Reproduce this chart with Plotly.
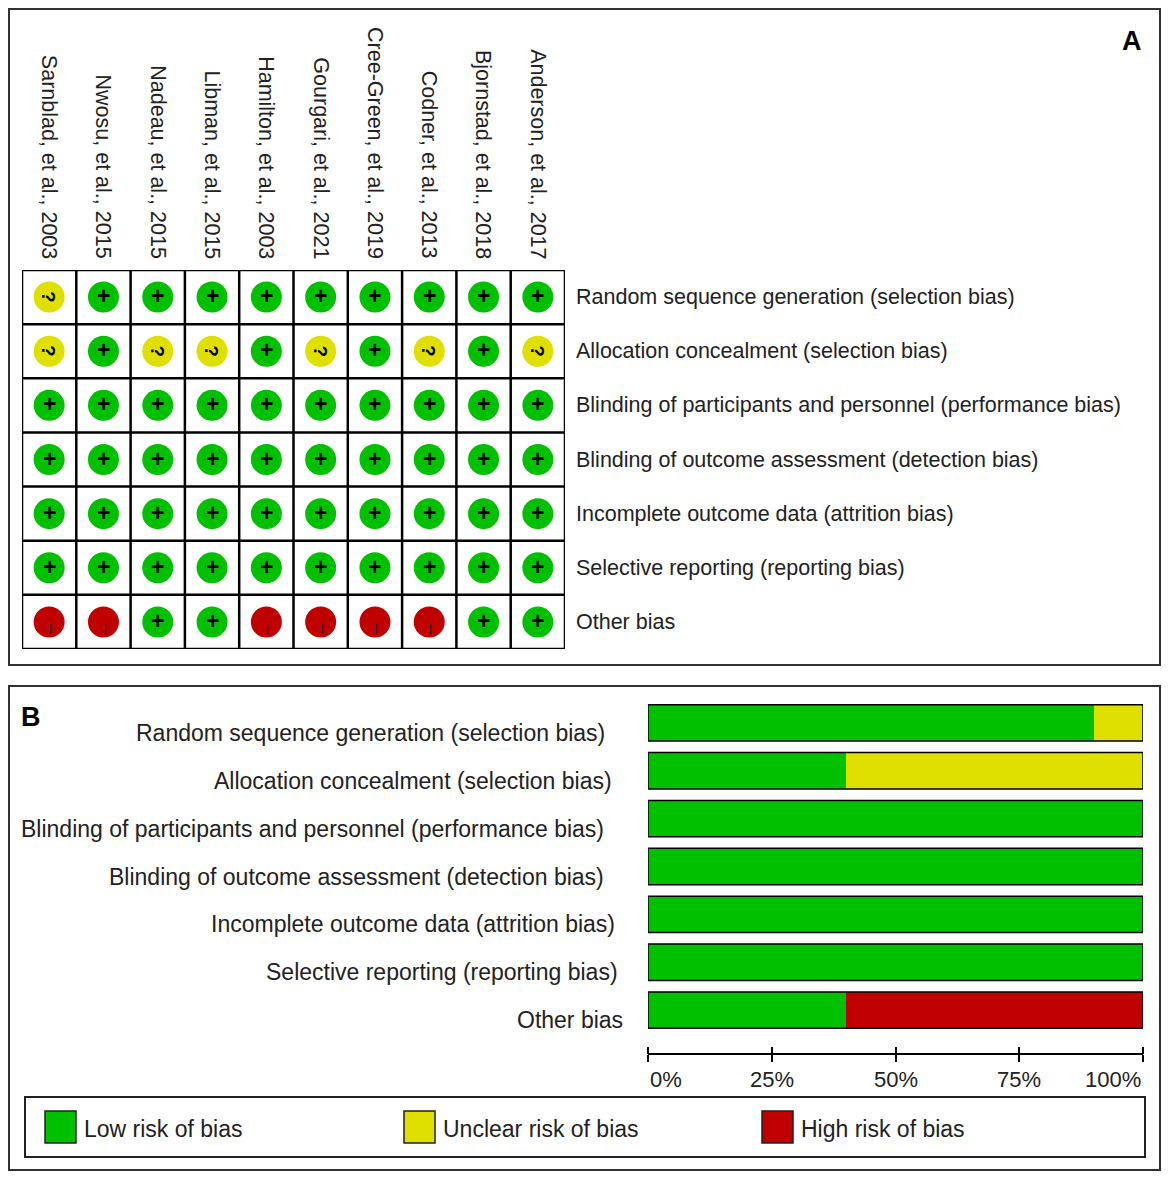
import plotly.graph_objects as go

# studies (columns, left to right) and bias domains (rows, top to bottom)
studies = ["Sarnblad, et al., 2003", "Nwosu, et al., 2015", "Nadeau, et al., 2015",
           "Libman, et al., 2015", "Hamilton, et al., 2003", "Gourgari, et al., 2021",
           "Cree-Green, et al., 2019", "Codner, et al., 2013", "Bjornstad, et al., 2018",
           "Anderson, et al., 2017"]
domains = ["Random sequence generation (selection bias)",
           "Allocation concealment (selection bias)",
           "Blinding of participants and personnel (performance bias)",
           "Blinding of outcome assessment (detection bias)",
           "Incomplete outcome data (attrition bias)",
           "Selective reporting (reporting bias)",
           "Other bias"]

# L = low, U = unclear, H = high  (one string per domain, one letter per study)
judgements = [
    "ULLLLLLLLL",
    "ULUULULULU",
    "LLLLLLLLLL",
    "LLLLLLLLLL",
    "LLLLLLLLLL",
    "LLLLLLLLLL",
    "HHLLHHHHLL",
]
risk_names = {"L": "Low risk of bias", "U": "Unclear risk of bias", "H": "High risk of bias"}
risk_colors = {"L": "#00c000", "U": "#dfdf00", "H": "#c00000"}
pct_ticks = [0, 25, 50, 75, 100]

# the page body has an 8px margin, so the figure is drawn smaller and shifted
OFF = 8
W, H = 1169 - 2 * OFF, 1180 - 2 * OFF
FONT = "Liberation Sans, Arial, sans-serif"
TXT = "#222222"


def px(x):
    return (x - OFF) / W


def py(y):
    return 1 - (y - OFF) / H


fig = go.Figure()
shapes = []
annotations = []

# ---------- Panel A : traffic light grid ----------
for code in ["L", "U", "H"]:
    xs, ys = [], []
    for j, row in enumerate(judgements):
        for i, c in enumerate(row):
            if c == code:
                xs.append(i)
                ys.append(j)
    fig.add_trace(go.Scatter(
        x=xs, y=ys, mode="markers", xaxis="x", yaxis="y",
        marker=dict(size=31, color=risk_colors[code], line=dict(width=0)),
        showlegend=False, hoverinfo="skip"))

for j, row in enumerate(judgements):
    for i, c in enumerate(row):
        if c == "L":
            annotations.append(dict(x=i, y=j, xref="x", yref="y", text="<b>+</b>", yshift=1,
                                    showarrow=False, font=dict(size=23, color="black", family=FONT)))
        elif c == "U":
            annotations.append(dict(x=i, y=j, xref="x", yref="y", text="<b>?</b>", textangle=90,
                                    showarrow=False, font=dict(size=19, color="black", family=FONT)))
        else:
            annotations.append(dict(x=i + 0.03, y=j, xref="x", yref="y", text="|", yshift=-6,
                                    showarrow=False, font=dict(size=11, color="black", family=FONT)))

# grid lines
n_s, n_d = len(studies), len(domains)
for i in range(n_s + 1):
    shapes.append(dict(type="line", xref="x", yref="y", x0=i - 0.5, x1=i - 0.5,
                       y0=-0.55, y1=n_d - 0.45, line=dict(color="black", width=2.5)))
for j in range(n_d + 1):
    shapes.append(dict(type="line", xref="x", yref="y", x0=-0.52, x1=n_s - 0.48,
                       y0=j - 0.5, y1=j - 0.5, line=dict(color="black", width=2.5)))

for i, s in enumerate(studies):
    annotations.append(dict(x=i, y=py(261), xref="x", yref="paper", text=s, textangle=90,
                            xanchor="center", yanchor="bottom", showarrow=False,
                            font=dict(size=21.5, color=TXT, family=FONT)))
for j, d in enumerate(domains):
    annotations.append(dict(x=px(574), y=j, xref="paper", yref="y", text=d,
                            xanchor="left", yanchor="middle", showarrow=False,
                            font=dict(size=21.5, color=TXT, family=FONT)))

# ---------- Panel B : summary bars ----------
pct = {code: [100 * row.count(code) / len(row) for row in judgements] for code in ["L", "U", "H"]}
for code in ["L", "U", "H"]:
    fig.add_trace(go.Bar(
        x=pct[code], y=list(range(n_d)), orientation="h", xaxis="x2", yaxis="y2",
        marker=dict(color=risk_colors[code], line=dict(width=0)), width=0.76,
        name=risk_names[code], showlegend=False, hoverinfo="skip"))
for j in range(n_d):
    shapes.append(dict(type="rect", xref="x2", yref="y2", x0=0, x1=100,
                       y0=j - 0.38, y1=j + 0.38, line=dict(color="black", width=1.5)))

label_end = [607, 614, 606, 606, 617, 620, 625]
for j, d in enumerate(domains):
    annotations.append(dict(x=px(label_end[j]), y=j, xref="paper", yref="y2", text=d,
                            xanchor="right", yanchor="middle", yshift=-10, showarrow=False,
                            font=dict(size=23, color=TXT, family=FONT)))

# percent tick labels: first left aligned, last right aligned, others centred
axis_y = py(1054)
for k, t in enumerate(pct_ticks):
    anchor = "left" if k == 0 else ("right" if k == len(pct_ticks) - 1 else "center")
    annotations.append(dict(x=t, y=py(1079), xref="x2", yref="paper", text=f"{t}%",
                            xanchor=anchor, yanchor="middle", showarrow=False,
                            font=dict(size=22, color=TXT, family=FONT)))

# dummy trace for upper tick marks of the percent axis
fig.add_trace(go.Scatter(x=[0, 100], y=[0, 0], xaxis="x3", yaxis="y2", mode="markers",
                         marker=dict(opacity=0), showlegend=False, hoverinfo="skip"))

# ---------- panel frames, letters, legend ----------
shapes.append(dict(type="rect", xref="paper", yref="paper", x0=px(9), x1=px(1160),
                   y0=py(665), y1=py(9), line=dict(color="#333333", width=2)))
shapes.append(dict(type="rect", xref="paper", yref="paper", x0=px(9), x1=px(1160),
                   y0=py(1170), y1=py(686), line=dict(color="#333333", width=2)))
annotations.append(dict(x=px(1132), y=py(41), xref="paper", yref="paper", text="<b>A</b>",
                        xanchor="center", yanchor="middle", showarrow=False,
                        font=dict(size=27, color="black", family=FONT)))
annotations.append(dict(x=px(31), y=py(717), xref="paper", yref="paper", text="<b>B</b>",
                        xanchor="center", yanchor="middle", showarrow=False,
                        font=dict(size=27, color="black", family=FONT)))

shapes.append(dict(type="rect", xref="paper", yref="paper", x0=px(25), x1=px(1145),
                   y0=py(1157), y1=py(1097), line=dict(color="#222222", width=2)))
legend_x = [45, 404, 762]
for k, code in enumerate(["L", "U", "H"]):
    x0 = legend_x[k]
    shapes.append(dict(type="rect", xref="paper", yref="paper", x0=px(x0), x1=px(x0 + 31),
                       y0=py(1143), y1=py(1111), fillcolor=risk_colors[code],
                       line=dict(color="#222222", width=1.5)))
    annotations.append(dict(x=px(x0 + 37), y=py(1129), xref="paper", yref="paper",
                            text=risk_names[code], xanchor="left", yanchor="middle",
                            showarrow=False, font=dict(size=23, color=TXT, family=FONT)))

fig.update_layout(
    template="none",
    width=W, height=H,
    margin=dict(l=0, r=0, t=0, b=0, autoexpand=False),
    paper_bgcolor="white", plot_bgcolor="rgba(0,0,0,0)",
    barmode="stack", bargap=0,
    xaxis=dict(domain=[px(22), px(565)], range=[-0.5, n_s - 0.5], visible=False,
               automargin=False, fixedrange=True),
    yaxis=dict(domain=[py(649), py(270)], range=[n_d - 0.5, -0.5], visible=False,
               automargin=False, fixedrange=True),
    xaxis2=dict(domain=[px(648), px(1143)], range=[0, 100], anchor="free", position=axis_y,
                showline=True, linecolor="black", linewidth=1.5, showgrid=False, zeroline=False,
                ticks="outside", ticklen=7, tickwidth=1.5, tickcolor="black",
                tickvals=pct_ticks, showticklabels=False, automargin=False, fixedrange=True),
    xaxis3=dict(overlaying="x2", matches="x2", range=[0, 100], anchor="free", position=axis_y,
                side="top", showline=False, showgrid=False, zeroline=False, showticklabels=False,
                ticks="outside", ticklen=7, tickwidth=1.5, tickcolor="black",
                tickvals=pct_ticks, automargin=False, fixedrange=True),
    yaxis2=dict(domain=[py(1034), py(699)], range=[n_d - 0.5, -0.5], visible=False,
                automargin=False, fixedrange=True),
    shapes=shapes,
    annotations=annotations,
    font=dict(family=FONT, color=TXT),
)

fig.write_html("out.html")
